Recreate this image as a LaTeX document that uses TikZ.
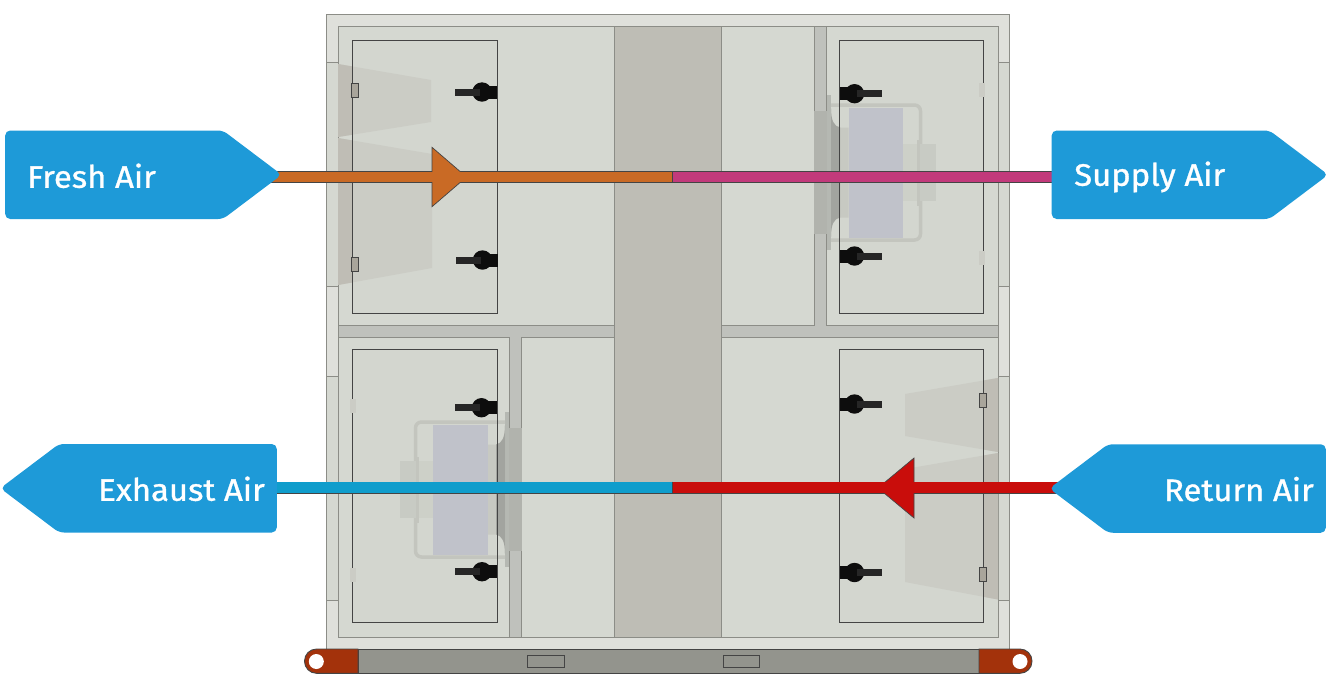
\documentclass[tikz,border=0pt]{standalone}
\usepackage{fontspec}
\setmainfont{Fira Sans}
\newfontfamily\airfont{Fira Sans}[FakeBold=1, FakeStretch=1.06]
\usepackage{xcolor}
\usepackage{tikz}
\usetikzlibrary{positioning, shapes.symbols}
\definecolor{framefill}{HTML}{DFE0DB}
\definecolor{panelfill}{HTML}{D5D8D1}
\definecolor{doorfill}{HTML}{D3D6CF}
\definecolor{shaftfill}{HTML}{BEBDB5}
\definecolor{barfill}{HTML}{BFC1BC}
\definecolor{edgegray}{HTML}{8C8D87}
\definecolor{doorline}{HTML}{444444}
\definecolor{damperbody}{HTML}{CBCCC5}
\definecolor{damperdark}{HTML}{BFBDB5}
\definecolor{hingefill}{HTML}{A9A59B}
\definecolor{fanframe}{HTML}{C3C5BE}
\definecolor{fanwheel}{HTML}{C0C2CA}
\definecolor{basegray}{HTML}{93948D}
\definecolor{baseend}{HTML}{A3320B}
\definecolor{labelblue}{HTML}{1E9AD8}
\definecolor{freshorange}{HTML}{C96A25}
\definecolor{supplypink}{HTML}{C23A7B}
\definecolor{exhaustblue}{HTML}{0F9DCC}
\definecolor{returnred}{HTML}{C90D0B}
\pgfdeclarelayer{back}
\pgfsetlayers{back,main}
\tikzset{
  edge/.style={draw=edgegray, line width=.8pt},
  door/.style={draw=doorline, line width=.9pt},
  hinge/.style={fill=hingefill, draw=doorline, line width=.3pt},
  airlabel/.style={shape=signal, signal from=nowhere, fill=labelblue, rounded corners=5pt,
    minimum width=276.5pt, minimum height=88.5pt, signal pointer angle=74, inner sep=0pt},
  airtext/.style={text=white, font=\airfont\fontsize{31}{31}\selectfont, inner sep=0pt,
    text height=22pt, text depth=0pt},
  airflow/.style={double distance=10.8pt, line width=.8pt, draw=doorline},
  flowhead/.style={draw=doorline, line width=.7pt, line join=miter},
}
\newcommand{\handle}[2]{%
  \fill[black!95] (#1,#2-6.5) rectangle ++(-15,13);
  \fill[black!95] (#1-15,#2) circle (9.7);
  \fill[black!85] (#1-17,#2-3.5) rectangle (#1-42,#2+3.5);
}
\newcommand{\fanunit}{%
  \fill[black!17!panelfill] (-16.7,-61.5) rectangle (-4.3,61.5);
  \fill[black!15!panelfill] (-4.3,-77.5) rectangle (0,77.5);
  \fill[fanframe!80!panelfill] (0,-64) .. controls (0,-52) and (3,-46) .. (9,-45) -- (17.5,-45)
    -- (17.5,45) -- (9,45) .. controls (3,46) and (0,52) .. (0,64) -- cycle;
  \fill[black!24!panelfill] (0,-64) .. controls (0,-52) and (3,-46) .. (9,-45)
    -- (9,45) .. controls (3,46) and (0,52) .. (0,64) -- cycle;
  \draw[fanframe, line width=3.5pt, rounded corners=6pt] (0,-67.5) -- (89.5,-67.5) -- (89.5,67.5) -- (0,67.5);
  \fill[fanwheel] (17.5,-65) rectangle (72,65);
  \fill[fanframe!45!panelfill] (72,-28.3) rectangle (105,28.3);
  \fill[fanframe!70!panelfill] (87,-28.3) rectangle (105,28.3);
  \fill[fanframe] (86,-33) rectangle (89,33);
}
\begin{document}
\begin{tikzpicture}[x=1pt, y=-1pt]
  \useasboundingbox (0,0) rectangle (1330,675);
  \begin{pgfonlayer}{back}
    % casing
    \draw[edge, fill=framefill] (326,14) rectangle (1009.5,650);
    \foreach \ya/\yb in {62.5/286, 376.5/600} {
      \draw[edge, fill=panelfill] (326,\ya) rectangle (338,\yb);
      \draw[edge, fill=panelfill] (998,\ya) rectangle (1009.5,\yb);
    }
    \draw[edge, fill=panelfill] (338,26) rectangle (998,637);
    \draw[edge, fill=barfill] (338,325) rectangle (998,337);
    \draw[edge, fill=barfill] (814.3,26) rectangle (826.7,325);
    \draw[edge, fill=barfill] (509,337) rectangle (521.7,637);
    \fill[barfill] (814.8,324) rectangle (826.2,326);
    \fill[barfill] (509.5,336) rectangle (521.2,338);
    \draw[edge, fill=shaftfill] (614.3,26) rectangle (721.7,637);
    % doors
    \fill[doorfill] (352.5,40.5) rectangle (497,313);
    \fill[doorfill] (839.5,40.5) rectangle (983.5,313);
    \fill[doorfill] (352.5,349.5) rectangle (497,622.5);
    \fill[doorfill] (839.5,349.5) rectangle (983.5,622.5);
    % dampers
    \fill[damperbody] (338,64) -- (431,80) -- (431,122) -- (338,137) -- cycle;
    \fill[damperbody] (338,138) -- (432,154) -- (432,268) -- (338,285) -- cycle;
    \fill[damperdark] (338,64) -- (352.5,66.5) -- (352.5,134.7) -- (338,137) -- cycle;
    \fill[damperdark] (338,138) -- (352.5,140.5) -- (352.5,282.4) -- (338,285) -- cycle;
    \fill[damperbody] (998,378) -- (905,394) -- (905,436) -- (998,452) -- cycle;
    \fill[damperbody] (998,453) -- (905,469) -- (905,582) -- (998,599.5) -- cycle;
    \fill[damperdark] (998,378) -- (983.5,380.5) -- (983.5,449.5) -- (998,452) -- cycle;
    \fill[damperdark] (998,453) -- (983.5,455.5) -- (983.5,596.8) -- (998,599.5) -- cycle;
    % fans
    \begin{scope}[shift={(831,172.5)}]
      \fanunit
    \end{scope}
    \begin{scope}[shift={(505,489.5)}, xscale=-1]
      \fanunit
    \end{scope}
    \draw[door] (352.5,40.5) rectangle (497,313);
    \draw[door] (839.5,40.5) rectangle (983.5,313);
    \draw[door] (352.5,349.5) rectangle (497,622.5);
    \draw[door] (839.5,349.5) rectangle (983.5,622.5);
    % hinges
    \foreach \hx/\hy in {351.5/83, 351.5/257, 979.5/393, 979.5/567.5}
      \draw[hinge] (\hx,\hy) rectangle ++(6.5,14);
    \foreach \hx/\hy in {979/83, 979/251, 350/399, 350/568}
      \fill[damperbody] (\hx,\hy) rectangle ++(6,14);
    % handles
    \handle{497}{92}
    \handle{497.5}{260}
    \handle{496.5}{407.7}
    \handle{497}{571.7}
    \begin{scope}[shift={(1336.5,0)}, xscale=-1]
      \handle{497}{93.7}
      \handle{497}{256}
      \handle{497}{404}
      \handle{497}{572.5}
    \end{scope}
    % base rail
    \draw[doorline, line width=.9pt, fill=basegray] (358,649) rectangle (979,673.3);
    \draw[doorline, line width=.9pt, fill=baseend] (358,649) [rounded corners=12pt] -- (304.5,649) -- (304.5,673.3) [sharp corners] -- (358,673.3) -- cycle;
    \draw[doorline, line width=.9pt, fill=baseend] (979,649) [rounded corners=12pt] -- (1032,649) -- (1032,673.3) [sharp corners] -- (979,673.3) -- cycle;
    \fill[white] (316.3,661.5) circle (7.5);
    \fill[white] (1020,661.5) circle (7.5);
    \draw[doorline, line width=.8pt] (527.3,655.3) rectangle (564,667.3);
    \draw[doorline, line width=.8pt] (723,655.3) rectangle (759.7,667.3);
  \end{pgfonlayer}

  \node[airlabel, signal to=east, anchor=west] (fresh) at (5,174.75) {};
  \node[airlabel, signal to=east, anchor=west] (supply) at (1051.5,174.75) {};
  \node[airlabel, signal to=west, anchor=east] (exhaust) at (277,488.25) {};
  \node[airlabel, signal to=west, anchor=east] (return) at (1326,488.5) {};

  \node[airtext, right=22pt of fresh.west, yshift=-2pt] (freshtext) {Fresh Air};
  \node[airtext, right=22.5pt of supply.west] (supplytext) {Supply Air};
  \node[airtext, left=12pt of exhaust.east, yshift=-1.5pt] (exhausttext) {Exhaust Air};
  \node[airtext, left=12pt of return.east, yshift=-1.5pt] (returntext) {Return Air};

  \coordinate (midtop) at (672.3,177);
  \coordinate (midlow) at (672.3,487.7);
  \begin{pgfonlayer}{back}
    \draw[airflow, double=freshorange, shorten <=-12pt] (fresh.east |- midtop) -- (midtop);
    \draw[airflow, double=supplypink] (midtop) -- (supply.west |- midtop);
    \draw[airflow, double=exhaustblue] (exhaust.east |- midlow) -- (midlow);
    \draw[airflow, double=returnred, shorten >=-12pt] (midlow) -- (return.west |- midlow);
    \draw[doorline, line width=.8pt] ([yshift=6pt]midtop) -- ([yshift=-6pt]midtop);
    \draw[doorline, line width=.8pt] ([yshift=6pt]midlow) -- ([yshift=-6pt]midlow);
    % direction heads
    \draw[flowhead, fill=freshorange] (432,147.3) -- (466.5,177) -- (432,206.7) -- cycle;
    \fill[freshorange] (431,171.6) rectangle (469,182.4);
    \draw[flowhead, fill=returnred] (914,458) -- (878,488) -- (914,518) -- cycle;
    \fill[returnred] (875,482.3) rectangle (915,493.1);
  \end{pgfonlayer}
\end{tikzpicture}
\end{document}
